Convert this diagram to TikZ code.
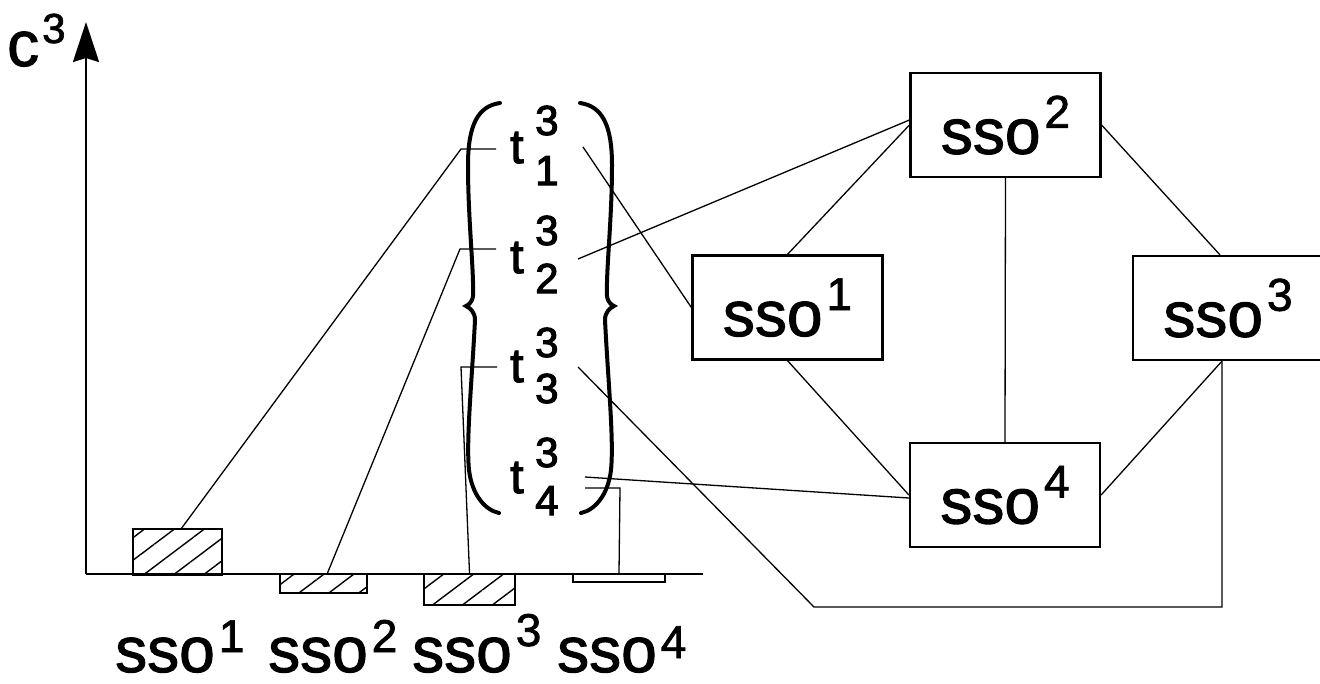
\documentclass[tikz,border=0pt]{standalone}
\usepackage{fontspec}
\setmainfont{Liberation Sans}
\usetikzlibrary{arrows.meta,patterns.meta,calc}
\newcommand{\bigf}{\fontsize{64}{64}\selectfont\addfontfeature{FakeBold=1.6}}
\newcommand{\supf}{\fontsize{46}{46}\selectfont\addfontfeature{FakeBold=1.6}}
\newcommand{\ssolab}[2][26pt]{{\bigf sso}\hspace{4pt}\raisebox{#1}{\supf #2}}
\begin{document}
\begin{tikzpicture}[x=1pt,y=-1pt,
  box/.style={draw, line width=2.2pt, minimum width=190pt, minimum height=104pt, inner sep=0pt},
  txt/.style={inner sep=0pt, anchor=base west},
  tletter/.style={txt, font=\fontsize{48}{48}\selectfont\addfontfeature{FakeBold=2.5}},
  tdigit/.style={txt, font=\fontsize{42}{42}\selectfont\addfontfeature{FakeBold=2.5}},
  conn/.style={line width=1.3pt},
  bar/.style={draw, line width=2pt, inner sep=0pt},
  hatch/.style={pattern={Lines[angle=37,distance=18pt,line width=1.4pt]}},
  brace/.style={line width=4pt, line cap=round},
  axis/.style={line width=2.4pt}]
\useasboundingbox (0,0) rectangle (1320,683);

% bars
\node[bar,hatch,minimum width=89pt,minimum height=46pt] (bar1) at (177.5,552) {};
\node[bar,hatch,minimum width=87pt,minimum height=19pt] (bar2) at (323.5,583.5) {};
\node[bar,hatch,minimum width=91pt,minimum height=31pt] (bar3) at (469.5,589.5) {};
\node[bar,minimum width=92pt,minimum height=8pt] (bar4) at (619,578) {};

% axes
\coordinate (origin) at (86,574);
\coordinate (ytip) at (86,22);
\coordinate (xend) at (703,574);
\draw[axis,-{Stealth[length=40pt,width=26pt,inset=4pt]}] (origin) -- (ytip);
\draw[axis] (origin) -- (xend);
\node[txt,font=\bigf] (cl) at (7,66) {c};
\node[txt,font=\fontsize{42}{42}\selectfont\addfontfeature{FakeBold=1.6}] (c3) at (42,43) {3};

% bottom labels
\node[txt] (L1) at (115,672) {\ssolab[20pt]{1}};
\node[txt] (L2) at (268,672) {\ssolab[20pt]{2}};
\node[txt] (L3) at (412,672) {\ssolab[26pt]{3}};
\node[txt] (L4) at (557,672) {\ssolab[14pt]{4}};

% braces
\draw[brace] (500,103) .. controls (478,106) and (468,125) .. (468,165)
  .. controls (468,220) and (474,270) .. (473,296)
  .. controls (472,303) and (468,305) .. (466,306)
  .. controls (470,308) and (475,312) .. (475,320)
  .. controls (472,380) and (466,440) .. (469,470)
  .. controls (472,495) and (485,510) .. (499,513);
\draw[brace] (580,103) .. controls (602,106) and (612,125) .. (612,165)
  .. controls (612,220) and (606,270) .. (607,296)
  .. controls (608,303) and (612,305) .. (614,306)
  .. controls (610,308) and (605,312) .. (605,320)
  .. controls (608,380) and (614,440) .. (611,470)
  .. controls (608,495) and (595,510) .. (581,513);

% t stacks
\node[tletter] (t1) at (510,163) {t};
\node[tdigit] (t1s) at (535,135) {3};
\node[tdigit] (t1b) at (535,185) {1};
\node[tletter] (t2) at (510,273) {t};
\node[tdigit] (t2s) at (535,245) {3};
\node[tdigit] (t2b) at (535,293) {2};
\node[tletter] (t3) at (510,382) {t};
\node[tdigit] (t3s) at (535,357) {3};
\node[tdigit] (t3b) at (535,403) {3};
\node[tletter] (t4) at (510,493) {t};
\node[tdigit] (t4s) at (535,467) {3};
\node[tdigit] (t4b) at (535,515) {4};

% boxes
\node[box] (s2) at (1005.5,125) {\ssolab{2}};
\node[box] (s1) at (787.5,307.5) {\ssolab{1}};
\node[box] (s3) at (1228,308) {\ssolab{3}};
\node[box] (s4) at (1005,495) {\ssolab{4}};

% box connectors
\draw[conn] (s2.south) -- (s4.north);
\draw[conn] (s2.west) -- (s1.north);
\draw[conn] (s2.east) -- ([xshift=-8pt]s3.north);
\draw[conn] (s1.south) -- (s4.west);
\draw[conn] ([xshift=-6pt]s3.south) -- (s4.east);

% t connectors
\coordinate (a1L) at (496,149); \coordinate (a1K) at (461,149);
\coordinate (a1R) at (583,147);
\coordinate (a2L) at (496,249); \coordinate (a2K) at (460,249);
\coordinate (a2R) at (578,259);
\coordinate (a3L) at (497,367); \coordinate (a3K) at (461,367);
\coordinate (a3R) at (578,367);
\coordinate (k1) at (814,607); \coordinate (k2) at (1222,607);
\coordinate (a4R) at (585,477);
\coordinate (a4S) at (585,488); \coordinate (a4K) at (620,488);

\draw[conn] (a1L) -- (a1K) -- ([xshift=4pt]bar1.north);
\draw[conn] (a1R) -- (s1.west);
\draw[conn] (a2L) -- (a2K) -- ([xshift=4pt]bar2.north);
\draw[conn] (a2R) -- ([yshift=5pt]s2.west);
\draw[conn] (a3L) -- (a3K) -- (bar3.north);
\draw[conn] (a3R) -- (k1) -- (k2) -- ([xshift=-6pt]s3.south);
\draw[conn] (a4R) -- ([yshift=-3pt]s4.west);
\draw[conn] (a4S) -- (a4K) -- (bar4.north);
\end{tikzpicture}
\end{document}
